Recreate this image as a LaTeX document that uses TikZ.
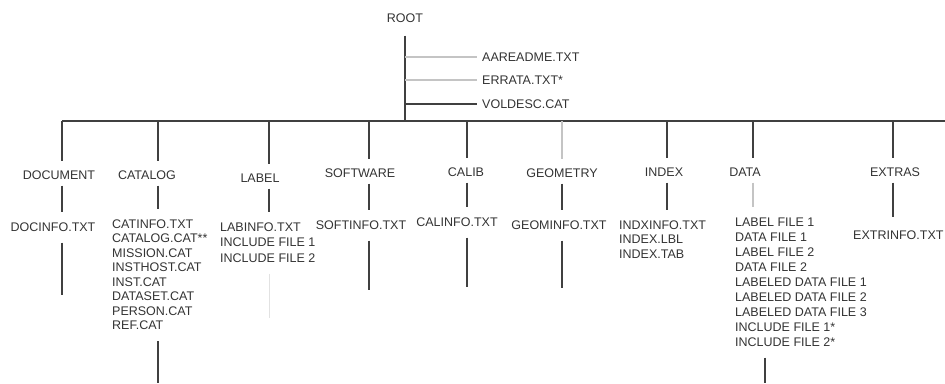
\documentclass[tikz,border=0pt]{standalone}
\usepackage{fontspec}
\setmainfont{Liberation Sans}
\definecolor{txt}{HTML}{333333}
\definecolor{ln}{HTML}{404040}
\definecolor{lnlight}{HTML}{C4C4C4}
\definecolor{lnfaint}{HTML}{E2E2E2}
\tikzset{
  lbl/.style={font=\fontsize{12.5}{14}\selectfont, text=txt, inner sep=0pt,
              text height=8.9pt, text depth=0pt},
  wire/.style={draw=ln, line width=1.3pt},
  wirelight/.style={draw=lnlight, line width=1.1pt},
  wirefaint/.style={draw=lnfaint, line width=1pt},
  drop/.style={shorten >=9pt},
  link/.style={shorten <=6pt, shorten >=10pt},
  tail/.style={shorten <=11pt},
}
\begin{document}
\begin{tikzpicture}[x=1pt, y=-1pt]
\useasboundingbox (0,0) rectangle (945,383);

% root directory and its own files
\node[lbl] (root) at (405,18) {ROOT};
\coordinate (rootbus) at (405,121);
\node[lbl, anchor=west] (aareadme) at (482,57) {AAREADME.TXT};
\node[lbl, anchor=west] (errata) at (482,80) {ERRATA.TXT*};
\node[lbl, anchor=west] (voldesc) at (482,104) {VOLDESC.CAT};
\draw[wire, shorten <=13pt] (root.south) -- (rootbus);
\draw[wirelight, shorten >=5pt] (rootbus |- aareadme) -- (aareadme.west);
\draw[wirelight, shorten >=5pt] (rootbus |- errata) -- (errata.west);
\draw[wire, shorten >=5pt] (rootbus |- voldesc) -- (voldesc.west);

% bus with one drop per subdirectory
\coordinate (busL) at (62,121);
\coordinate (busR) at (945,121);
\draw[wire] (busL) -- (busR);
\foreach \n/\x in {doc/62, cat/158, lab/269, sw/369, cal/467, geo/562, idx/667, dat/753, ext/893}
  \coordinate (b\n) at (\x,121);

% DOCUMENT
\node[lbl] (document) at (59,175) {DOCUMENT};
\node[lbl] (docinfo) at (53,227) {DOCINFO.TXT};
\coordinate (docend) at (62,295);
\draw[wire, drop] (bdoc) -- (bdoc |- document.north);
\draw[wire, link] (bdoc |- document.south) -- (bdoc |- docinfo.north);
\draw[wire, tail] (docend |- docinfo.south) -- (docend);

% CATALOG
\node[lbl] (catalog) at (147,175) {CATALOG};
\foreach \t [count=\i] in {CATINFO.TXT, CATALOG.CAT**, MISSION.CAT, INSTHOST.CAT,
                            INST.CAT, DATASET.CAT, PERSON.CAT, REF.CAT}
  \node[lbl, anchor=west] (cat\i) at (112,{224+14.5*(\i-1)}) {\t};
\coordinate (catend) at (158,383);
\draw[wire, drop] (bcat) -- (bcat |- catalog.north);
\draw[wire, link] (bcat |- catalog.south) -- (bcat |- cat1.north);
\draw[wire, tail] (catend |- cat8.south) -- (catend);

% LABEL
\node[lbl] (label) at (260,178) {LABEL};
\foreach \t [count=\i] in {LABINFO.TXT, INCLUDE FILE 1, INCLUDE FILE 2}
  \node[lbl, anchor=west] (lab\i) at (220,{227+15.5*(\i-1)}) {\t};
\coordinate (labend) at (269,318);
\draw[wire, drop] (blab) -- (blab |- label.north);
\draw[wire, link] (blab |- label.south) -- (blab |- lab1.north);
\draw[wirefaint, tail] (labend |- lab3.south) -- (labend);

% SOFTWARE
\node[lbl] (software) at (360,173) {SOFTWARE};
\node[lbl] (softinfo) at (361,225) {SOFTINFO.TXT};
\coordinate (swend) at (369,290);
\draw[wire, drop] (bsw) -- (bsw |- software.north);
\draw[wire, link] (bsw |- software.south) -- (bsw |- softinfo.north);
\draw[wire, tail] (swend |- softinfo.south) -- (swend);

% CALIB
\node[lbl] (calib) at (466,172) {CALIB};
\node[lbl] (calinfo) at (457,222) {CALINFO.TXT};
\coordinate (calend) at (467,287);
\draw[wire, drop] (bcal) -- (bcal |- calib.north);
\draw[wire, link] (bcal |- calib.south) -- (bcal |- calinfo.north);
\draw[wire, tail] (calend |- calinfo.south) -- (calend);

% GEOMETRY
\node[lbl] (geometry) at (562,173) {GEOMETRY};
\node[lbl] (geominfo) at (559,225) {GEOMINFO.TXT};
\coordinate (geoend) at (562,288);
\draw[wirelight, drop] (bgeo) -- (bgeo |- geometry.north);
\draw[wire, link] (bgeo |- geometry.south) -- (bgeo |- geominfo.north);
\draw[wire, tail] (geoend |- geominfo.south) -- (geoend);

% INDEX
\node[lbl] (index) at (664,172) {INDEX};
\foreach \t [count=\i] in {INDXINFO.TXT, INDEX.LBL, INDEX.TAB}
  \node[lbl, anchor=west] (idx\i) at (619,{225+14.5*(\i-1)}) {\t};
\draw[wire, drop] (bidx) -- (bidx |- index.north);
\draw[wire, link] (bidx |- index.south) -- (bidx |- idx1.north);

% DATA
\node[lbl] (data) at (745,172) {DATA};
\foreach \t [count=\i] in {LABEL FILE 1, DATA FILE 1, LABEL FILE 2, DATA FILE 2,
                            LABELED DATA FILE 1, LABELED DATA FILE 2, LABELED DATA FILE 3,
                            INCLUDE FILE 1*, INCLUDE FILE 2*}
  \node[lbl, anchor=west] (dat\i) at (735,{222+15*(\i-1)}) {\t};
\coordinate (datend) at (765,383);
\draw[wire, drop] (bdat) -- (bdat |- data.north);
\draw[wirelight, link] (bdat |- data.south) -- (bdat |- dat1.north);
\draw[wire, tail] (datend |- dat9.south) -- (datend);

% EXTRAS
\node[lbl] (extras) at (895,172) {EXTRAS};
\node[lbl, anchor=west] (extrinfo) at (853,235) {EXTRINFO.TXT};
\draw[wire, drop] (bext) -- (bext |- extras.north);
\draw[wire, shorten <=6pt, shorten >=13pt] (bext |- extras.south) -- (bext |- extrinfo.north);
\end{tikzpicture}
\end{document}
